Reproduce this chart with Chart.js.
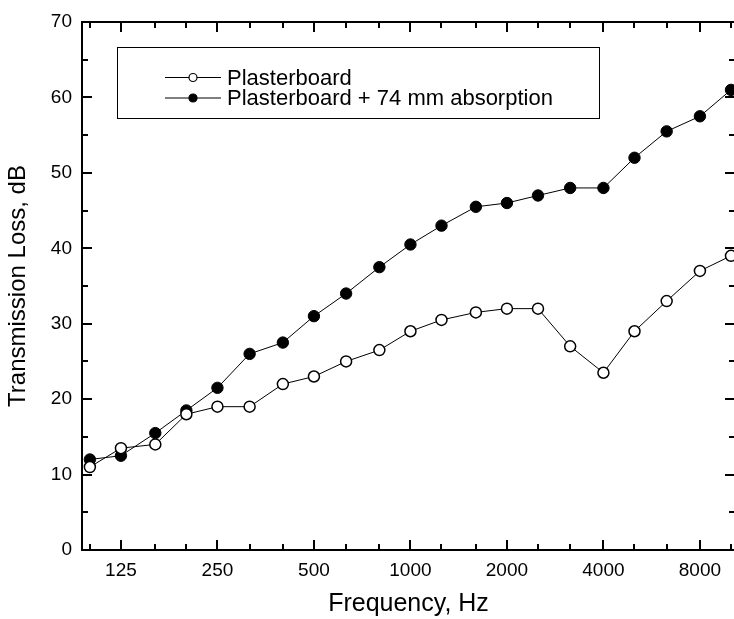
<!DOCTYPE html>
<html>
<head>
<meta charset="utf-8">
<script src="https://cdn.jsdelivr.net/npm/chart.js@4/dist/chart.umd.min.js"></script>
<style>
  html, body { margin: 0; padding: 0; background: #fff; overflow: hidden; }
  #wrap { width: 734px; height: 619px; overflow: hidden; }
  canvas { display: block; }
</style>
</head>
<body>
<div id="wrap"><canvas id="c" width="742" height="619"></canvas></div>
<script>
// ---- data ----
const frequencies = [100, 125, 160, 200, 250, 315, 400, 500, 630, 800, 1000, 1250, 1600, 2000, 2500, 3150, 4000, 5000, 6300, 8000, 10000];
const plasterboard = [11, 13.5, 14, 18, 19, 19, 22, 23, 25, 26.5, 29, 30.5, 31.5, 32, 32, 27, 23.5, 29, 33, 37, 39];
const plasterboardAbsorption = [12, 12.5, 15.5, 18.5, 21.5, 26, 27.5, 31, 34, 37.5, 40.5, 43, 45.5, 46, 47, 48, 48, 52, 55.5, 57.5, 61];
const xTickLabels = ['125', '250', '500', '1000', '2000', '4000', '8000'];
const yTicks = [0, 10, 20, 30, 40, 50, 60, 70];
const yMinorTicks = [5, 15, 25, 35, 45, 55, 65];
const seriesNames = ['Plasterboard', 'Plasterboard + 74 mm absorption'];
const xTitle = 'Frequency, Hz';
const yTitle = 'Transmission Loss, dB';

const FONT = "Arial, 'Liberation Sans', Helvetica, sans-serif";

const toPoints = arr => frequencies.map((f, i) => ({ x: f, y: arr[i] }));

// frame with inward ticks on all four sides
const framePlugin = {
  id: 'frame',
  afterDatasetsDraw(chart) {
    const { ctx, chartArea: a, scales } = chart;
    const xs = scales.x, ys = scales.y;
    ctx.save();
    ctx.strokeStyle = '#000';
    ctx.lineWidth = 2;
    ctx.lineCap = 'butt';
    ctx.beginPath();
    ctx.rect(a.left, a.top, a.right - a.left, a.bottom - a.top);
    ctx.stroke();
    ctx.beginPath();
    frequencies.forEach(f => {
      const px = Math.round(xs.getPixelForValue(f));
      const len = xTickLabels.includes(String(f)) ? 10 : 6;
      ctx.moveTo(px, a.bottom); ctx.lineTo(px, a.bottom - len);
      ctx.moveTo(px, a.top); ctx.lineTo(px, a.top + len);
    });
    yTicks.forEach(v => {
      const py = Math.round(ys.getPixelForValue(v));
      ctx.moveTo(a.left, py); ctx.lineTo(a.left + 10, py);
      ctx.moveTo(a.right, py); ctx.lineTo(a.right - 10, py);
    });
    yMinorTicks.forEach(v => {
      const py = Math.round(ys.getPixelForValue(v));
      ctx.moveTo(a.left, py); ctx.lineTo(a.left + 6, py);
      ctx.moveTo(a.right, py); ctx.lineTo(a.right - 6, py);
    });
    ctx.stroke();
    ctx.restore();
  }
};

// boxed legend with line + marker samples
const legendPlugin = {
  id: 'boxLegend',
  afterDraw(chart) {
    const { ctx } = chart;
    ctx.save();
    ctx.strokeStyle = '#000';
    ctx.lineWidth = 1;
    ctx.strokeRect(117.5, 47.5, 482, 71);
    const rows = [77.5, 98];
    chart.data.datasets.forEach((ds, i) => {
      const y = rows[i];
      ctx.beginPath();
      ctx.lineWidth = 1;
      ctx.moveTo(165, y); ctx.lineTo(221, y);
      ctx.stroke();
      ctx.beginPath();
      ctx.arc(193, y, 4, 0, Math.PI * 2);
      ctx.fillStyle = ds.pointBackgroundColor;
      ctx.fill();
      ctx.lineWidth = 1.2;
      ctx.stroke();
      ctx.fillStyle = '#000';
      ctx.font = '22px ' + FONT;
      ctx.textBaseline = 'middle';
      ctx.textAlign = 'left';
      ctx.fillText(ds.label, 227, y + 1);
    });
    ctx.restore();
  }
};

new Chart(document.getElementById('c'), {
  type: 'line',
  data: {
    datasets: [
      {
        label: seriesNames[0],
        data: toPoints(plasterboard),
        borderColor: '#000',
        borderWidth: 1,
        pointRadius: 5.5,
        pointBorderWidth: 1.5,
        pointBackgroundColor: '#fff',
        pointBorderColor: '#000',
        clip: false,
        tension: 0
      },
      {
        label: seriesNames[1],
        data: toPoints(plasterboardAbsorption),
        borderColor: '#000',
        borderWidth: 1,
        pointRadius: 5.7,
        pointBorderWidth: 1,
        pointBackgroundColor: '#000',
        pointBorderColor: '#000',
        clip: false,
        tension: 0
      }
    ]
  },
  options: {
    responsive: false,
    animation: false,
    events: [],
    layout: { padding: { left: 0, top: 22, right: 2, bottom: 0 } },
    plugins: { legend: { display: false }, tooltip: { enabled: false } },
    scales: {
      x: {
        type: 'logarithmic',
        min: 94.5,
        max: 10292,
        grid: { display: false, drawTicks: false },
        border: { display: false },
        afterBuildTicks(scale) { scale.ticks = frequencies.map(v => ({ value: v })); },
        afterFit(scale) { scale.height = 69; },
        ticks: {
          autoSkip: false,
          maxRotation: 0,
          minRotation: 0,
          padding: 9,
          color: '#000',
          font: { family: FONT, size: 19 },
          callback: (v) => xTickLabels.includes(String(v)) ? String(v) : ''
        },
        title: {
          display: true,
          text: xTitle,
          color: '#000',
          font: { family: FONT, size: 25 },
          padding: { top: 0, bottom: 0 }
        }
      },
      y: {
        type: 'linear',
        min: 0,
        max: 70,
        grid: { display: false, drawTicks: false },
        border: { display: false },
        afterFit(scale) { scale.width = 82; },
        afterBuildTicks(scale) { scale.ticks = yTicks.map(v => ({ value: v })); },
        ticks: {
          padding: 10,
          color: '#000',
          font: { family: FONT, size: 19 }
        },
        title: {
          display: true,
          text: yTitle,
          color: '#000',
          font: { family: FONT, size: 24 },
          padding: { top: 4, bottom: 0 }
        }
      }
    }
  },
  plugins: [framePlugin, legendPlugin]
});
</script>
</body>
</html>
